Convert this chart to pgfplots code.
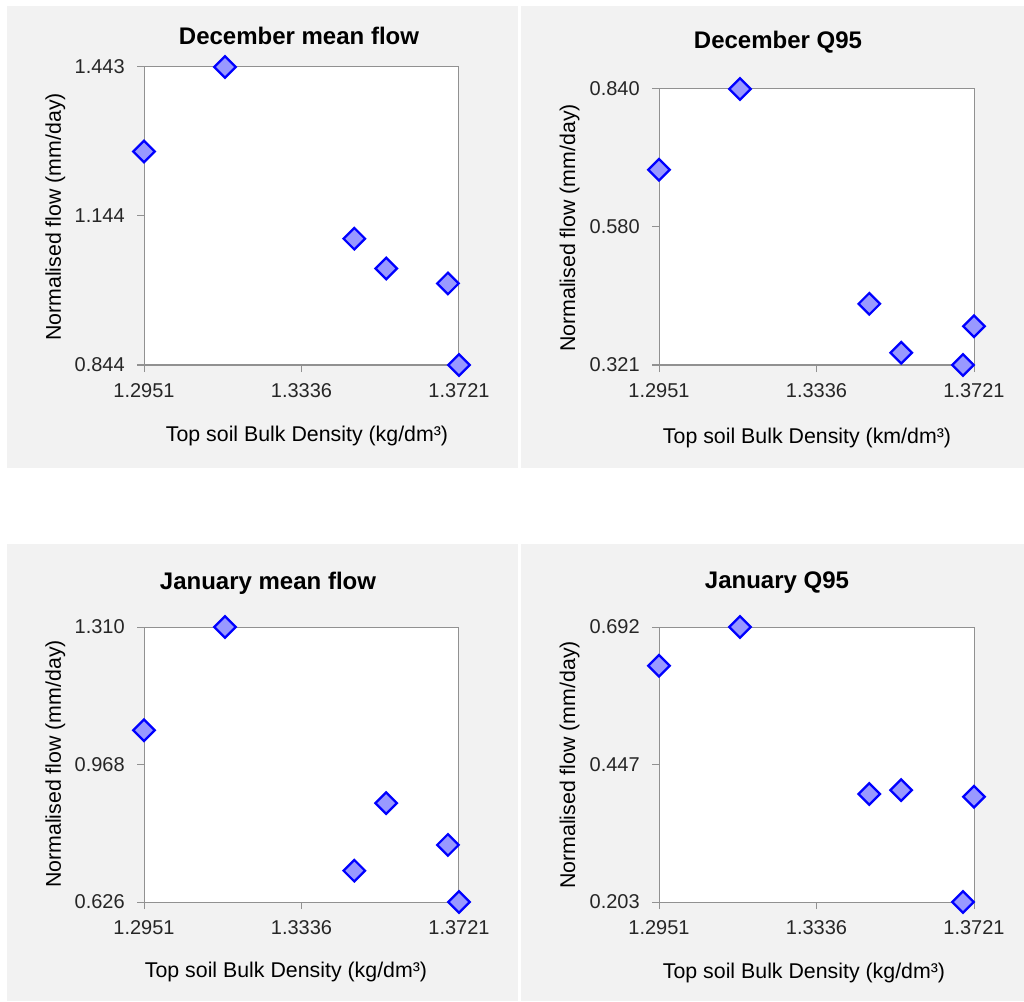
\documentclass[border=0pt]{standalone}
\usepackage{pgfplots}
\pgfplotsset{compat=1.18}
\usepackage{fontspec}
\setmainfont{Liberation Sans}
\definecolor{panelbg}{RGB}{242,242,242}
\definecolor{axgray}{RGB}{145,145,145}
\definecolor{mfill}{RGB}{153,153,255}
\definecolor{medge}{RGB}{0,0,255}
\pgfplotsset{
  panel/.style={
    scale only axis,
    width=236.25pt,
    xmin=1.2951, xmax=1.3721,
    xtick={1.2951,1.3336,1.3721},
    xticklabels={1.2951,1.3336,1.3721},
    axis line style={axgray, line width=0.75pt},
    every tick/.style={axgray, line width=0.75pt},
    tick align=outside,
    major tick length=5.25pt,
    xtick pos=left, ytick pos=left,
    tick label style={font=\fontsize{15}{18}\selectfont, text=black!85},
    xticklabel style={anchor=base, inner sep=0pt, yshift=-18.75pt},
    yticklabel style={anchor=east, inner sep=0pt, xshift=-9pt},
    clip=false,
    axis background/.style={fill=white},
    anchor=south west,
    /pgf/number format/assume math mode=true,
  },
  pts/.style={only marks, mark=square*, mark size=5.7pt,
    mark options={rotate=45, fill=mfill, draw=medge, line width=1.7pt}},
}
\newcommand{\ttl}{\fontsize{18}{22}\selectfont\bfseries}
\newcommand{\lbl}{\fontsize{16}{19}\selectfont}
\begin{document}
\begin{tikzpicture}
\begin{scope}[x=0.75pt,y=0.75pt]
\fill[white] (0,0) rectangle (1024,1001);
\useasboundingbox (0,0) rectangle (1024,1001);
\fill[panelbg] (7,533) rectangle (518,995);
\fill[panelbg] (521,533) rectangle (1024,995);
\fill[panelbg] (7,0) rectangle (518,457);
\fill[panelbg] (521,0) rectangle (1024,457);
\end{scope}

% December mean flow
\begin{axis}[panel, at={(108pt,477pt)}, height=223.5pt,
  ymin=0.844, ymax=1.443, ytick={0.844,1.1435,1.443}, yticklabels={0.844,1.144,1.443}]
\addplot[pts] coordinates {(1.2951,1.273) (1.3149,1.443) (1.3465,1.098) (1.3543,1.038) (1.3694,1.008) (1.3721,0.844)};
\end{axis}

% December Q95
\begin{axis}[panel, at={(494.25pt,477pt)}, height=207pt,
  ymin=0.321, ymax=0.840, ytick={0.321,0.5805,0.840}, yticklabels={0.321,0.580,0.840}]
\addplot[pts] coordinates {(1.2951,0.688) (1.3149,0.840) (1.3465,0.436) (1.3543,0.344) (1.3694,0.321) (1.3721,0.394)};
\end{axis}

% January mean flow
\begin{axis}[panel, at={(108pt,74.25pt)}, height=206.25pt,
  ymin=0.626, ymax=1.310, ytick={0.626,0.968,1.310}, yticklabels={0.626,0.968,1.310}]
\addplot[pts] coordinates {(1.2951,1.053) (1.3149,1.310) (1.3465,0.704) (1.3543,0.872) (1.3694,0.768) (1.3721,0.626)};
\end{axis}

% January Q95
\begin{axis}[panel, at={(494.25pt,74.25pt)}, height=206.25pt,
  ymin=0.203, ymax=0.692, ytick={0.203,0.4475,0.692}, yticklabels={0.203,0.447,0.692}]
\addplot[pts] coordinates {(1.2951,0.623) (1.3149,0.692) (1.3465,0.395) (1.3543,0.402) (1.3694,0.203) (1.3721,0.390)};
\end{axis}

\begin{scope}[x=0.75pt,y=0.75pt]
\node[anchor=base] at (299,956) {\ttl December mean flow};
\node[anchor=base] at (778,952) {\ttl December Q95};
\node[anchor=base] at (268,412) {\ttl January mean flow};
\node[anchor=base] at (777,413) {\ttl January Q95};
\node[anchor=base] at (307,560) {\lbl Top soil Bulk Density (kg/dm³)};
\node[anchor=base] at (807,557) {\lbl Top soil Bulk Density (km/dm³)};
\node[anchor=base] at (286,24) {\lbl Top soil Bulk Density (kg/dm³)};
\node[anchor=base] at (804,23) {\lbl Top soil Bulk Density (kg/dm³)};
\node[anchor=base, rotate=90] at (61,784) {\lbl Normalised flow (mm/day)};
\node[anchor=base, rotate=90] at (575,773) {\lbl Normalised flow (mm/day)};
\node[anchor=base, rotate=90] at (61,237) {\lbl Normalised flow (mm/day)};
\node[anchor=base, rotate=90] at (575,236) {\lbl Normalised flow (mm/day)};
\end{scope}
\end{tikzpicture}
\end{document}
